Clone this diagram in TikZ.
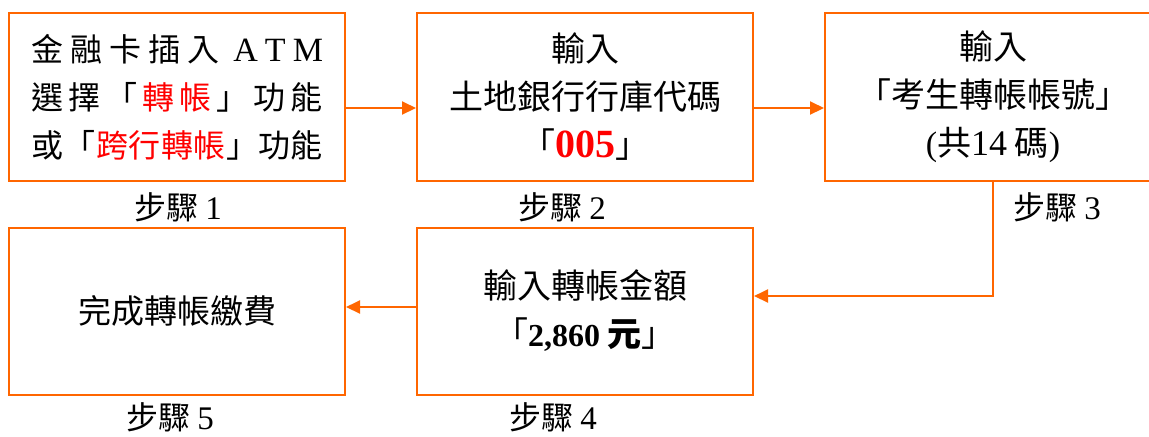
\documentclass[tikz,border=0pt]{standalone}
\usepackage{fontspec}
\setmainfont{Noto Sans CJK TC}
\newfontfamily\lat{Liberation Serif}
\usetikzlibrary{arrows.meta}
\definecolor{org}{RGB}{255,102,0}
\begin{document}
\begin{tikzpicture}[x=0.5pt,y=-0.5pt,
  box/.style={draw=org,line width=1pt,minimum width=168pt,minimum height=84pt,inner sep=0pt,align=center,font=\fontsize{17}{24}\selectfont},
  conn/.style={draw=org,line width=1pt,-{Triangle[length=7pt,width=6.5pt]}},
  steplbl/.style={font=\fontsize{16}{18}\selectfont,inner sep=0pt}]
\useasboundingbox (0,0) rectangle (1149,436);
\clip (0,0) rectangle (1149,436);
\node[box,font=\fontsize{16}{24}\selectfont] (b1) at (177,97) {%
  \hbox to 146pt{金\hfil 融\hfil 卡\hfil 插\hfil 入\hfil\hfil{\lat\fontsize{17}{24}\selectfont A\hfil T\hfil M}}\\
  \hbox to 146pt{選\hfil 擇\hfil 「\hfil\textcolor{red}{轉}\hfil\textcolor{red}{帳}\hfil 」\hfil 功\hfil 能}\\
  \hbox to 146pt{或\hfil 「\hfil\textcolor{red}{跨}\hfil\textcolor{red}{行}\hfil\textcolor{red}{轉}\hfil\textcolor{red}{帳}\hfil 」\hfil 功\hfil 能}};
\node[box] (b2) at (585,97) {輸入\\土地銀行行庫代碼\\「{\lat\bfseries\fontsize{20}{24}\selectfont\textcolor{red}{005}}」};
\node[box] (b3) at (993,97) {輸入\\「考生轉帳帳號」\\{\lat\fontsize{17}{24}\selectfont(}共{\lat\fontsize{18}{24}\selectfont 14} 碼{\lat\fontsize{17}{24}\selectfont)}};
\node[box,minimum height=83.5pt] (b4) at (585,311) {輸入轉帳金額\\「{\lat\bfseries\fontsize{16}{24}\selectfont 2,860} \textbf{元}」};
\node[box,minimum height=83.5pt,font=\fontsize{16.5}{24}\selectfont] (b5) at (177,311) {完成轉帳繳費};
\node[steplbl] (s1) at (178,207) {步驟 {\lat\fontsize{16.5}{18}\selectfont 1}};
\node[steplbl] (s2) at (562,207) {步驟 {\lat\fontsize{16.5}{18}\selectfont 2}};
\node[steplbl] (s3) at (1057,207) {步驟 {\lat\fontsize{16.5}{18}\selectfont 3}};
\node[steplbl] (s4) at (553,417) {步驟 {\lat\fontsize{16.5}{18}\selectfont 4}};
\node[steplbl] (s5) at (170,417) {步驟 {\lat\fontsize{16.5}{18}\selectfont 5}};
\draw[conn] ([yshift=-5.5pt]b1.east) -- ([yshift=-5.5pt]b2.west);
\draw[conn] ([yshift=-5.5pt]b2.east) -- ([yshift=-5.5pt]b3.west);
\draw[conn] (b3.south) |- ([yshift=7.5pt]b4.east);
\draw[conn] ([yshift=2pt]b4.west) -- ([yshift=2pt]b5.east);
\end{tikzpicture}
\end{document}
